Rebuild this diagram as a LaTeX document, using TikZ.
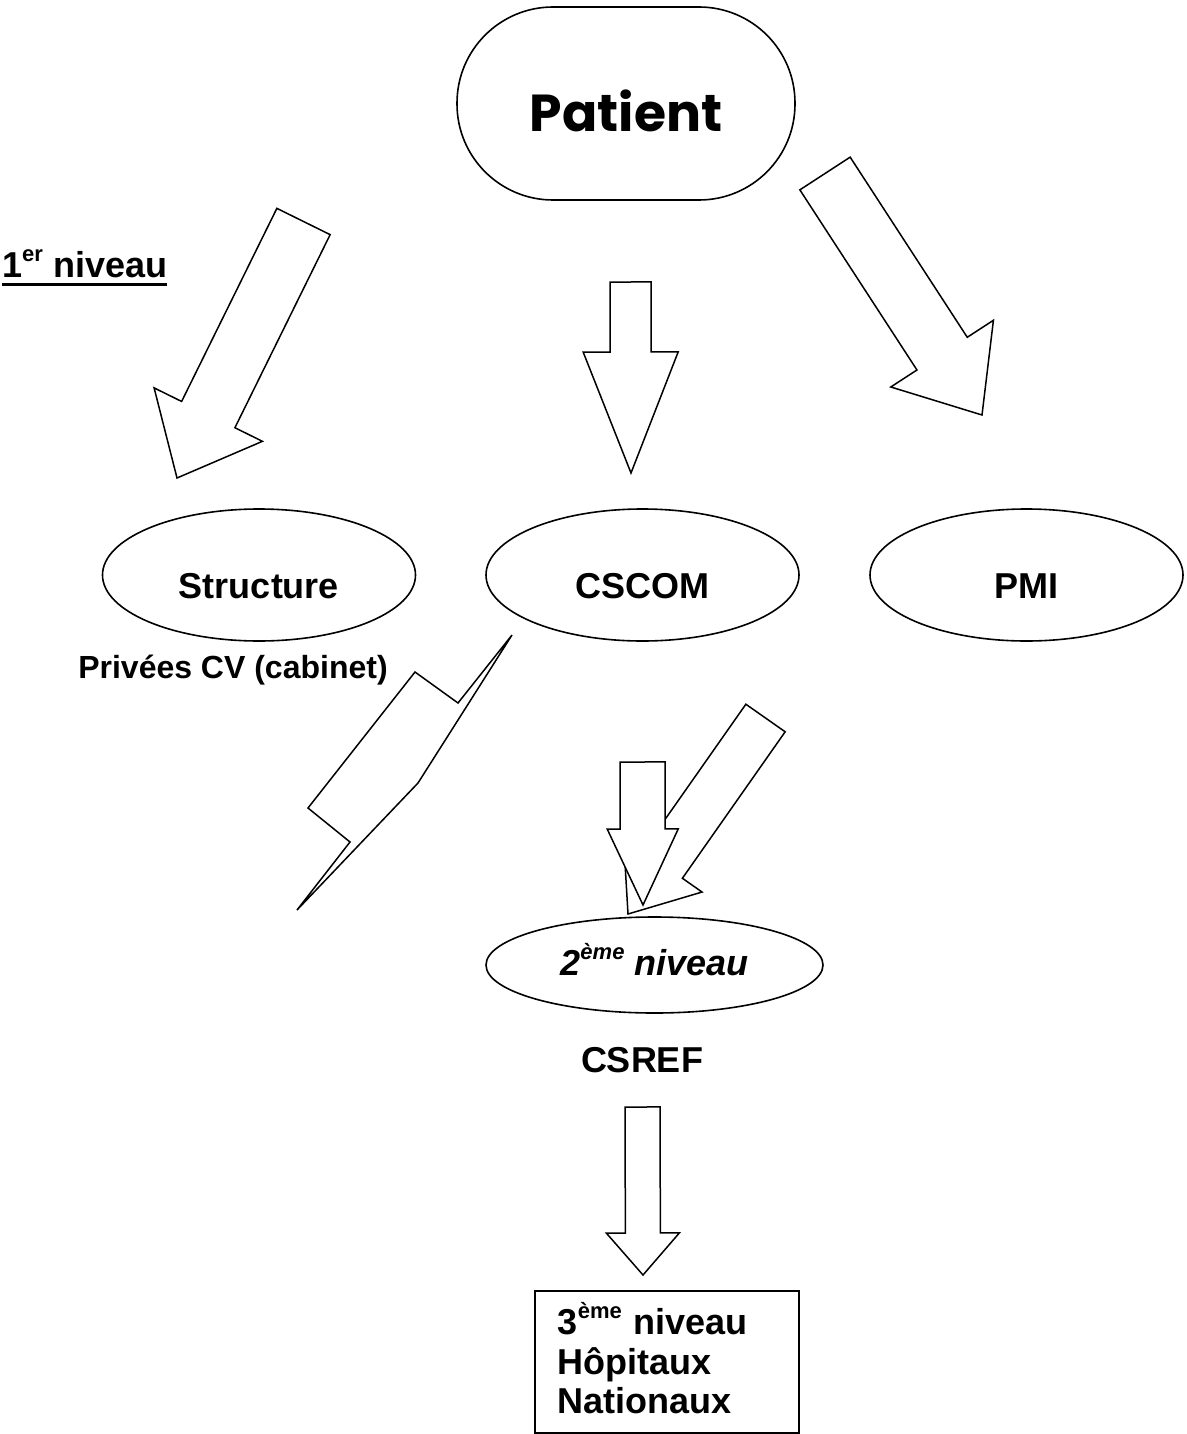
\documentclass[tikz,border=0pt]{standalone}
\usepackage{fontspec}
\setmainfont{Liberation Sans}
\newfontfamily\patfont{Poppins}
\usetikzlibrary{shapes.geometric,calc}
\newcommand{\bigtxt}{\fontsize{36}{41.4}\selectfont\bfseries}
\newcommand{\sups}[1]{\raisebox{16pt}{\fontsize{22}{22}\selectfont #1}}
\newsavebox{\ulbox}
\newcommand{\thickul}[1]{\sbox{\ulbox}{#1}\rlap{\usebox{\ulbox}}\rule[-9pt]{\wd\ulbox}{2.6pt}}
\tikzset{outline/.style={draw=black,line width=1.6pt,fill=white}}
\tikzset{lvlbox/.style={ellipse,outline,minimum width=313pt,minimum height=132pt,font=\bigtxt,text height=46pt,text depth=0pt}}
\tikzset{hollow/.style={draw=black,line width=1.5pt,fill=white,line join=miter}}
% hollow block arrow: tail, tip, shaft half width, head half width, head length
\newcommand{\hollowarrow}[5]{%
  \coordinate (hb) at ($(#2)!#5!(#1)$);
  \draw[hollow] ($(#1)!#3!90:(#2)$) -- ($(hb)!#3!90:(#2)$) -- ($(hb)!#4!90:(#2)$)
    -- (#2) -- ($(hb)!#4!-90:(#2)$) -- ($(hb)!#3!-90:(#2)$) -- ($(#1)!#3!-90:(#2)$) -- cycle;
}

\begin{document}
\begin{tikzpicture}[x=1pt,y=-1pt]
\useasboundingbox (0,0) rectangle (1186,1434);
%
\node (patient) [outline,rounded corners=96pt,minimum width=338pt,minimum height=193pt,
  font=\patfont\bfseries\fontsize{52}{60}\selectfont,text height=57pt,text depth=0pt] at (626,103.5) {Patient};
\node (lvl1) [anchor=base west,inner sep=0pt,font=\bigtxt] at (2,277) {\thickul{1\sups{er} niveau}};
%
\node (struct) [lvlbox] at (259,575) {Structure};
\node (cscom) [lvlbox] at (642.5,575) {CSCOM};
\node (pmi) [lvlbox] at (1026.5,575) {PMI};
\node (priv) [anchor=base,inner sep=0pt,font=\fontsize{32}{37}\selectfont\bfseries] at (233,678) {Privées CV (cabinet)};
%
\node (niv2) [ellipse,outline,minimum width=337pt,minimum height=96pt,font=\bigtxt\itshape,
  text height=20pt,text depth=0pt] at (654.5,965) {2\sups{ème} niveau};
\node (csref) [anchor=base,inner sep=0pt,font=\bigtxt] at (642,1072) {CSREF};
\node (niv3) [draw=black,line width=1.5pt,anchor=north west,text width=218pt,align=left,
  inner xsep=23pt,inner ysep=3pt,font=\fontsize{36}{39.5}\selectfont\bfseries] at (534,1290)
  {\rule{0pt}{41pt}3\sups{ème} niveau\\Hôpitaux\\Nationaux\rule[-16pt]{0pt}{16pt}};
%
% arrows from the patient
\coordinate (a1s) at (303.5,221.5); \coordinate (a1e) at (177,478);
\coordinate (a2s) at (630.5,282);   \coordinate (a2e) at (631,473);
\coordinate (a3s) at (825,173.5);   \coordinate (a3e) at (982,415);
\hollowarrow{a1s}{a1e}{29.7pt}{60.4pt}{70.7pt}
\hollowarrow{a2s}{a2e}{20.5pt}{47.5pt}{121pt}
\hollowarrow{a3s}{a3e}{30pt}{61.2pt}{73.2pt}
%
% arrows to the 2nd level
\coordinate (a4s) at (765.5,718);   \coordinate (a4e) at (628,914);
\coordinate (a5s) at (642.5,762);   \coordinate (a5e) at (643,905);
\hollowarrow{a4s}{a4e}{24pt}{48pt}{60.5pt}
\hollowarrow{a5s}{a5e}{22.5pt}{35.5pt}{76pt}
%
% arrow to the 3rd level
\coordinate (a6s) at (642.5,1107);  \coordinate (a6e) at (643,1275);
\hollowarrow{a6s}{a6e}{17.5pt}{36.5pt}{42pt}
%
% flash
\draw[hollow] (512,635) -- (458,703) -- (415,672) -- (308,808) -- (350,842)
  -- (297,910) -- (418,783) -- cycle;
\end{tikzpicture}
\end{document}
